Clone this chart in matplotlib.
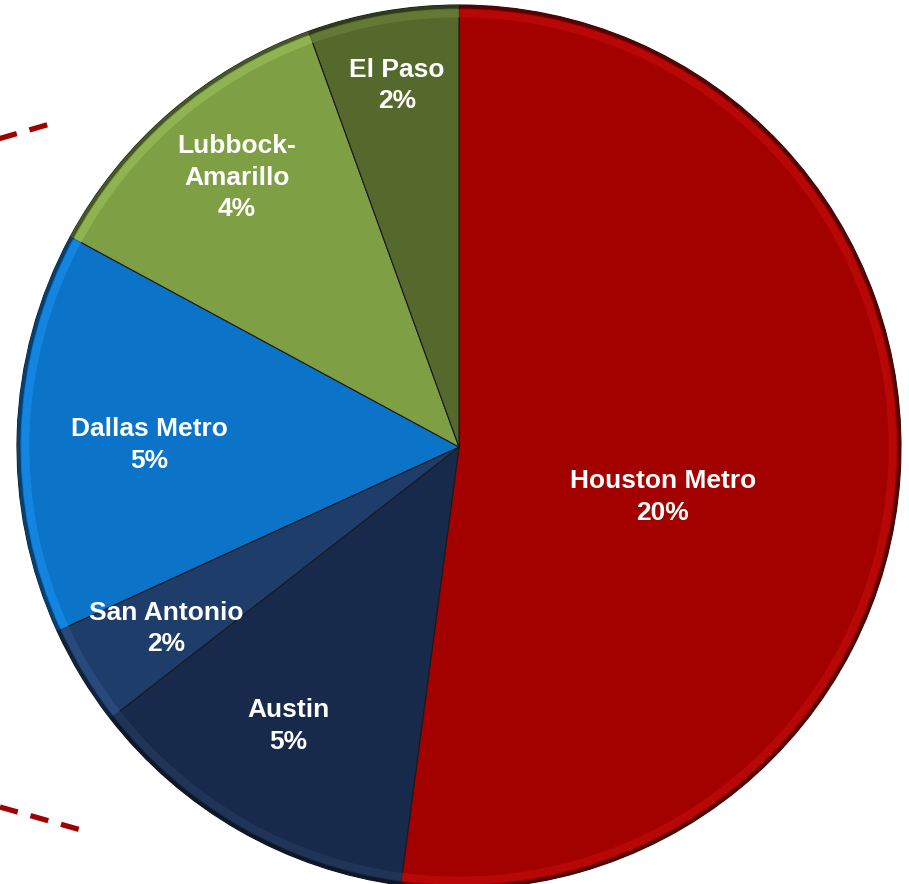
import matplotlib.pyplot as plt
from matplotlib.lines import Line2D
from matplotlib.patches import Wedge
import matplotlib.colors as mcolors
import numpy as np

plt.rcParams["font.family"] = ["Liberation Sans", "DejaVu Sans"]

# regions, clockwise from 12 o'clock
regions = ["Houston Metro", "Austin", "San Antonio", "Dallas Metro",
           "Lubbock-\nAmarillo", "El Paso"]
shares = [19.8, 4.7, 1.4, 5.6, 4.4, 2.1]
share_labels = ["20%", "5%", "2%", "5%", "4%", "2%"]
colors = ["#a30000", "#172a4b", "#1f3d6b", "#0b74c8", "#7f9f45", "#56692c"]

# label placement (fraction of radius, angle in deg counter-clockwise from east)
label_r = [0.475, 0.74, 0.78, 0.70, 0.79, 0.83]
label_ang = [-13.8, 238.6, 211.8, 179.6, 129.5, 99.7]

W, H = 909, 884
cx, cy, R = 459, 447, 442

fig = plt.figure(figsize=(W / 100, H / 100), dpi=100)
ax = fig.add_axes([(cx - R) / W, (H - cy - R) / H, 2 * R / W, 2 * R / H])

wedges, _ = ax.pie(shares, colors=colors, startangle=90, counterclock=False,
                   radius=1,
                   wedgeprops=dict(edgecolor="#1a1a1a", linewidth=0.8))

# bevel rim: lighter band just inside a darker outer edge
for w, c in zip(wedges, colors):
    rgb = np.array(mcolors.to_rgb(c))
    light = np.clip(rgb * 1.12 + 0.04, 0, 1)
    ax.add_patch(Wedge((0, 0), 0.99, w.theta1, w.theta2, width=0.018,
                       facecolor=light, edgecolor="none", alpha=0.7))
    ax.add_patch(Wedge((0, 0), 1.0, w.theta1, w.theta2, width=0.008,
                       facecolor=rgb * 0.55, edgecolor="none"))

for name, pct, r, a in zip(regions, share_labels, label_r, label_ang):
    t = np.deg2rad(a)
    ax.text(r * np.cos(t), r * np.sin(t), f"{name}\n{pct}", ha="center",
            va="center", color="white", fontsize=19, fontweight="bold",
            linespacing=1.4)

ax.set_xlim(-1, 1)
ax.set_ylim(-1, 1)
ax.set_aspect("equal")
ax.axis("off")

# dashed connector lines from the neighbouring chart
for (x0, y0), (x1, y1) in [((-2, 139), (50, 124)), ((0, 807), (81, 830))]:
    fig.add_artist(Line2D([x0 / W, x1 / W], [1 - y0 / H, 1 - y1 / H],
                          transform=fig.transFigure, color="#a00000",
                          linewidth=3.8, dashes=(3.5, 2.5),
                          solid_capstyle="butt", dash_capstyle="butt"))

fig.savefig("out.png", dpi=100)
